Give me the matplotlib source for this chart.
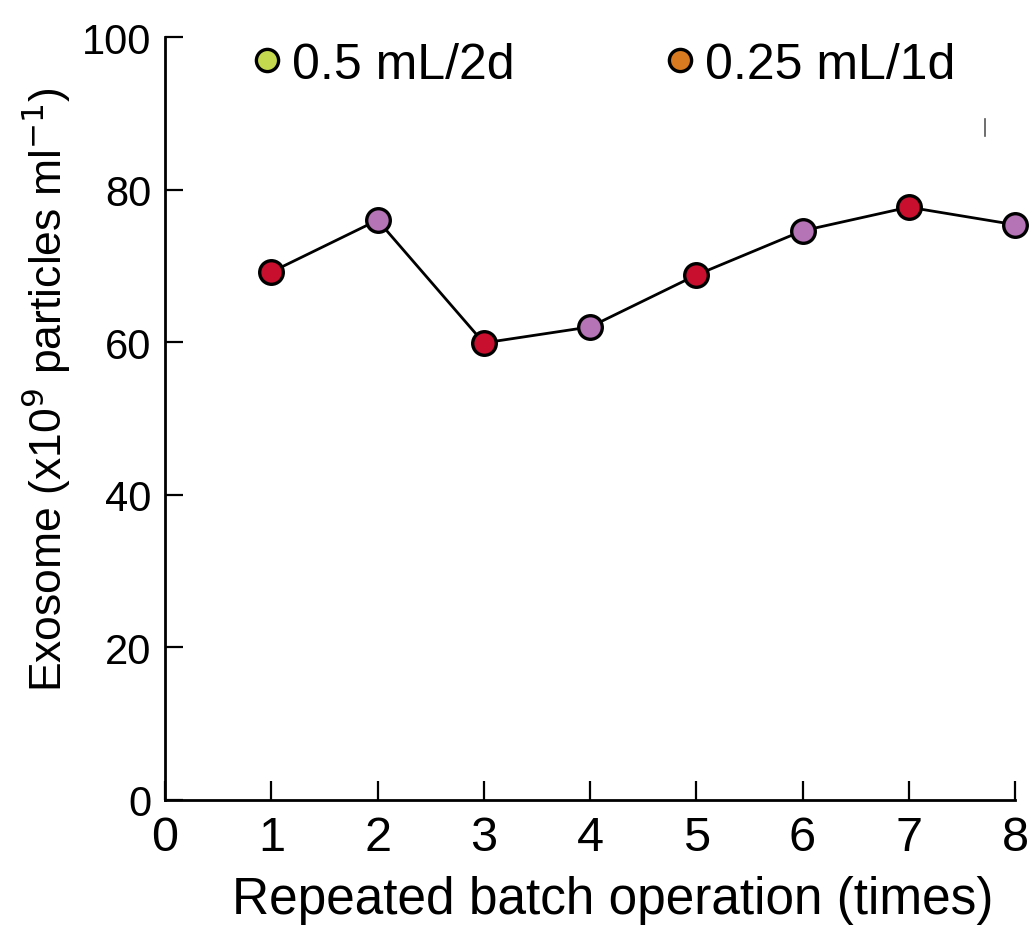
import matplotlib
matplotlib.use("Agg")
import matplotlib.pyplot as plt
from matplotlib.lines import Line2D

# --------------------------
# Data
# --------------------------

batches = [1, 2, 3, 4, 5, 6, 7, 8]
exosome = [69.2, 76.0, 59.9, 62.0, 68.8, 74.6, 77.7, 75.4]

legend_labels = ["0.5 mL/2d", "0.25 mL/1d"]

x_ticks = [0, 1, 2, 3, 4, 5, 6, 7, 8]
y_ticks = [0, 20, 40, 60, 80, 100]

# --------------------------
# Styles
# --------------------------

red = "#C8102E"
purple = "#B574B6"
point_colors = [red, purple, red, purple, red, purple, red, purple]
legend_colors = ["#C5D94F", "#D87A1F"]

plt.rcParams["font.family"] = ["Liberation Sans", "DejaVu Sans"]

fig = plt.figure(figsize=(10.32, 9.29), dpi=100)
ax = fig.add_axes([0.16, 0.138, 0.8235, 0.821])

ax.plot(batches, exosome, color="black", linewidth=2, zorder=2, clip_on=False)

for x, y, c in zip(batches, exosome, point_colors):
    ax.plot(
        x, y,
        marker="o",
        markersize=17,
        markerfacecolor=c,
        markeredgecolor="black",
        markeredgewidth=2.4,
        zorder=3,
        clip_on=False
    )

ax.set_xlim(0, 8)
ax.set_ylim(0, 100)

ax.set_xticks(x_ticks)
ax.set_yticks(y_ticks)

ax.spines["top"].set_visible(False)
ax.spines["right"].set_visible(False)
ax.spines["left"].set_linewidth(2)
ax.spines["bottom"].set_linewidth(2)

ax.tick_params(axis="x", direction="in", length=14, width=1.6, labelsize=35, pad=11)
ax.tick_params(axis="y", direction="in", length=13, width=1.6, labelsize=30, pad=10)

ax.set_xlabel("Repeated batch operation (times)", fontsize=37)
ax.set_ylabel(r"Exosome (x10$^{9}$ particles ml$^{-1}$)", fontsize=32)
ax.xaxis.set_label_coords(0.527, -0.098)
ax.yaxis.set_label_coords(-0.108, 0.539)

# small stray stroke at upper right of the original
ax.plot([0.965, 0.965], [0.870, 0.893], color="#555555", linewidth=1.2,
        transform=ax.transAxes, clip_on=False)

# --------------------------
# Legend
# --------------------------

handles = [
    Line2D([], [], linestyle="none", marker="o", markersize=16,
           markerfacecolor=c, markeredgecolor="black", markeredgewidth=2.4)
    for c in legend_colors
]

ax.legend(
    handles, legend_labels,
    loc="upper left",
    bbox_to_anchor=(0.079, 1.02),
    ncol=2,
    frameon=False,
    fontsize=36,
    handlelength=0.6,
    handletextpad=0.2,
    columnspacing=3.0,
    borderaxespad=0
)

fig.savefig("out.png", dpi=100)
